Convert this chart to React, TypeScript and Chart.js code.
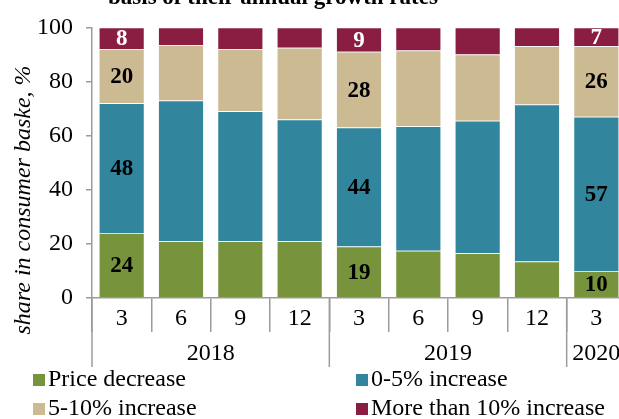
import React, { useEffect, useRef } from 'react';
import { Chart, registerables } from 'chart.js';

Chart.register(...registerables);

// ---- data ----
const months = ['3', '6', '9', '12', '3', '6', '9', '12', '3'];
const years = ['2018', '2019', '2020'];
const yearSpans = [4, 4, 1];
const seriesNames = ['Price decrease', '0-5% increase', '5-10% increase', 'More than 10% increase'];
const priceDecrease = [24, 21, 21, 21, 19, 17.5, 16.5, 13.5, 10];
const increase0to5 = [48, 52, 48, 45, 44, 46, 49, 58, 57];
const increase5to10 = [20, 20.5, 23, 26.5, 28, 28, 24.5, 21.5, 26];
const increaseOver10 = [8, 6.5, 8, 7.5, 9, 8.5, 10, 7, 7];
const labelledBars = [0, 4, 8];
const yTickStep = 20;
const titleText = 'basis of their annual growth rates';
const yTitleText = 'share in consumer baske, %';

// ---- style ----
const COLORS = ['#77933C', '#31859C', '#CCBA92', '#8A1E42'];
const LABEL_COLORS = ['#000', '#000', '#000', '#fff'];
const AXIS = '#9c9c9c';
const FAMILY = "'Liberation Serif', 'Times New Roman', serif";

const overlayPlugin = {
  id: 'overlay',
  afterDraw(chart: any) {
    const ctx = chart.ctx as CanvasRenderingContext2D;
    const area = chart.chartArea;
    const xs = chart.scales.x;
    ctx.save();

    // data labels
    ctx.font = `bold 23px ${FAMILY}`;
    ctx.textAlign = 'center';
    ctx.textBaseline = 'middle';
    chart.data.datasets.forEach((ds: any, di: number) => {
      const meta = chart.getDatasetMeta(di);
      labelledBars.forEach((i) => {
        const el = meta.data[i] as any;
        if (!el) return;
        const p = el.getProps(['x', 'y', 'base'], true);
        ctx.fillStyle = LABEL_COLORS[di];
        ctx.fillText(String(Math.round(ds.data[i])), p.x, (p.y + p.base) / 2 + 1);
      });
    });

    // group separators and year labels
    const catW = xs.width / months.length;
    const edge = (i: number) => xs.getPixelForValue(i) - catW / 2;
    ctx.strokeStyle = AXIS;
    ctx.lineWidth = 1.5;
    let start = 0;
    ctx.font = `24px ${FAMILY}`;
    ctx.fillStyle = '#000';
    years.forEach((yr, gi) => {
      const x0 = edge(start);
      const x1 = edge(start + yearSpans[gi]);
      ctx.beginPath();
      ctx.moveTo(x0, area.bottom);
      ctx.lineTo(x0, 367);
      ctx.stroke();
      ctx.fillText(yr, (x0 + x1) / 2, 354);
      start += yearSpans[gi];
    });
    const xe = edge(start);
    ctx.beginPath();
    ctx.moveTo(xe, area.bottom);
    ctx.lineTo(xe, 367);
    ctx.stroke();

    // y axis title
    ctx.save();
    ctx.translate(24, 200);
    ctx.rotate(-Math.PI / 2);
    ctx.font = `italic 24px ${FAMILY}`;
    ctx.textAlign = 'center';
    ctx.textBaseline = 'middle';
    ctx.fillText(yTitleText, 0, 0);
    ctx.restore();

    // title (cut by the top edge)
    ctx.font = `bold 23px ${FAMILY}`;
    ctx.textAlign = 'left';
    ctx.textBaseline = 'alphabetic';
    ctx.fillText(titleText, 108, 4);

    // legend
    const legendPos = [
      [33, 386],
      [356, 386],
      [33, 415],
      [356, 415],
    ];
    ctx.font = `24px ${FAMILY}`;
    ctx.textAlign = 'left';
    ctx.textBaseline = 'alphabetic';
    seriesNames.forEach((name, i) => {
      const [lx, ly] = legendPos[i];
      ctx.fillStyle = COLORS[i];
      ctx.fillRect(lx, ly - 12, 12, 12);
      ctx.fillStyle = '#000';
      ctx.fillText(name, lx + 15, ly);
    });
    ctx.restore();
  },
};

export default function App() {
  const ref = useRef<HTMLCanvasElement | null>(null);
  useEffect(() => {
    if (!ref.current) return;
    const series = [priceDecrease, increase0to5, increase5to10, increaseOver10];
    const chart = new Chart(ref.current, {
      type: 'bar',
      data: {
        labels: months,
        datasets: series.map((d, i) => ({
          label: seriesNames[i],
          data: d,
          backgroundColor: COLORS[i],
          borderColor: 'rgba(255,255,255,0.45)',
          borderWidth: 0.75,
          barPercentage: 0.77,
          categoryPercentage: 1,
        })),
      },
      options: {
        responsive: false,
        animation: false,
        devicePixelRatio: 1,
        layout: { padding: { top: 22, right: 14, bottom: 0, left: 0 } },
        plugins: {
          legend: { display: false },
          title: { display: false },
          tooltip: { enabled: false },
        },
        scales: {
          x: {
            stacked: true,
            offset: true,
            grid: {
              offset: true,
              drawOnChartArea: false,
              drawTicks: true,
              tickLength: 34,
              color: AXIS,
              lineWidth: 1.5,
            },
            border: { display: true, color: AXIS, width: 1.5 },
            ticks: {
              font: { family: FAMILY, size: 24 },
              color: '#000',
              padding: -28,
              maxRotation: 0,
              autoSkip: false,
            },
            afterFit: (s: any) => {
              s.height = 121;
            },
          },
          y: {
            stacked: true,
            min: 0,
            max: 100,
            ticks: {
              stepSize: yTickStep,
              font: { family: FAMILY, size: 24 },
              color: '#000',
              padding: 13,
            },
            grid: {
              drawOnChartArea: false,
              drawTicks: true,
              tickLength: 6,
              color: AXIS,
              lineWidth: 1.5,
            },
            border: { display: true, color: AXIS, width: 1.5 },
            afterFit: (s: any) => {
              s.width = 92;
            },
          },
        },
      } as any,
      plugins: [overlayPlugin],
    });
    return () => chart.destroy();
  }, []);

  return (
    <div
      style={{
        position: 'fixed',
        left: 0,
        top: 0,
        width: 619,
        height: 419,
        overflow: 'hidden',
        background: '#fff',
      }}
    >
      <canvas ref={ref} width={640} height={419} style={{ display: 'block' }} />
    </div>
  );
}
